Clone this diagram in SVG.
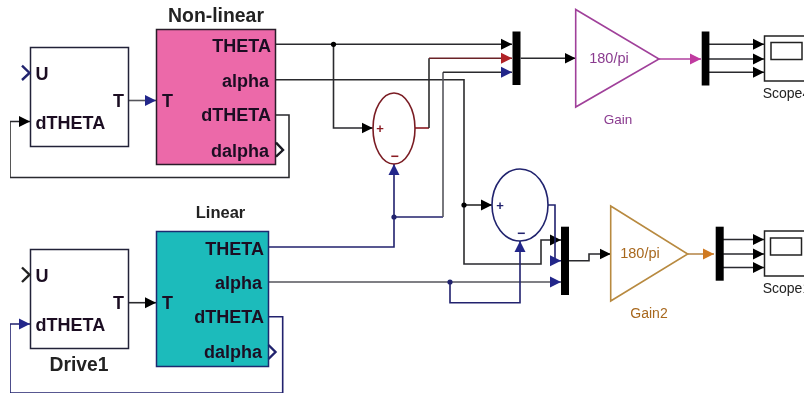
<svg xmlns="http://www.w3.org/2000/svg" width="804" height="395" viewBox="0 0 804 395">
<style>
text{font-family:"Liberation Sans",Arial,sans-serif}
.p{font-weight:700;font-size:18px;fill:#1c1024}
.e{text-anchor:end}
.t{font-weight:700;fill:#222;text-anchor:middle}
.box{fill:#fff;stroke:#222238;stroke-width:1.5}
.w{fill:none;stroke-width:1.6;stroke-linejoin:miter}
.k{stroke:#2a2a2e}.n{stroke:#20246e}.g{stroke:#55555c}
.bar{fill:#000}
.ch{fill:none;stroke-width:2.4}
</style>
<defs>
<filter id="soft" x="0" y="0" width="100%" height="100%"><feGaussianBlur stdDeviation="0.35"/></filter>
<marker id="ak" markerUnits="userSpaceOnUse" markerWidth="12" markerHeight="12" refX="11" refY="6" orient="auto"><path d="M0 0.5L11 6L0 11.5z" fill="#000"/></marker>
<marker id="an" markerUnits="userSpaceOnUse" markerWidth="12" markerHeight="12" refX="11" refY="6" orient="auto"><path d="M0 0.5L11 6L0 11.5z" fill="#23278a"/></marker>
<marker id="ar" markerUnits="userSpaceOnUse" markerWidth="12" markerHeight="12" refX="11" refY="6" orient="auto"><path d="M0 0.5L11 6L0 11.5z" fill="#b02028"/></marker>
<marker id="am" markerUnits="userSpaceOnUse" markerWidth="12" markerHeight="12" refX="11" refY="6" orient="auto"><path d="M0 0.5L11 6L0 11.5z" fill="#c03ba0"/></marker>
<marker id="ao" markerUnits="userSpaceOnUse" markerWidth="12" markerHeight="12" refX="11" refY="6" orient="auto"><path d="M0 0.5L11 6L0 11.5z" fill="#d07a20"/></marker>
</defs>
<rect width="804" height="395" fill="#fff"/>
<g filter="url(#soft)">
<g id="connectors">
<path class="w g" d="M128 100.5H156" marker-end="url(#an)"/>
<path class="w k" d="M128 302.7H156" marker-end="url(#ak)"/>
<path class="w k" d="M275 115H289V177.5H10V121.5H30" marker-end="url(#ak)"/>
<path class="w n" d="M268 316.7H282.7V393H10V324H30" marker-end="url(#an)"/>
<path class="w k" d="M275 44.3H512" marker-end="url(#ak)"/>
<path class="w k" d="M333.5 44.3V128H372.7" marker-end="url(#ak)"/>
<path class="w k" d="M275 79.7H464V264H541V240H561" marker-end="url(#ak)"/>
<path class="w k" d="M464 205H492" marker-end="url(#ak)"/>
<path class="w" stroke="#8a1c24" d="M415 128H429"/>
<path class="w k" d="M429 128V58.3"/>
<path class="w" stroke="#6a2228" d="M429 58.3H512" marker-end="url(#ar)"/>
<path class="w n" d="M268 247H394V164" marker-end="url(#an)"/>
<path class="w n" d="M394 217H443"/>
<path class="w g" d="M443 217V72.3"/>
<path class="w k" d="M443 72.3H512" marker-end="url(#an)"/>
<path class="w n" d="M548 205H555V260.7H561" marker-end="url(#an)"/>
<path class="w g" d="M268 282H561" marker-end="url(#an)"/>
<path class="w n" d="M450 282V302.7H520V241" marker-end="url(#an)"/>
<path class="w k" d="M520.7 58.3H575.5" marker-end="url(#ak)"/>
<path class="w k" d="M569 260.7H589V254H610.7" marker-end="url(#ak)"/>
<path class="w" stroke="#b0409f" d="M659 59H701" marker-end="url(#am)"/>
<path class="w" stroke="#b88a50" d="M688 254H714" marker-end="url(#ao)"/>
<path class="w k" d="M709 44.3H764" marker-end="url(#ak)"/>
<path class="w k" d="M709 59H764" marker-end="url(#ak)"/>
<path class="w k" d="M709 72.3H764" marker-end="url(#ak)"/>
<path class="w k" d="M723 239.5H764" marker-end="url(#ak)"/>
<path class="w k" d="M723 254H764" marker-end="url(#ak)"/>
<path class="w k" d="M723 267.5H764" marker-end="url(#ak)"/>
<circle cx="333.5" cy="44.3" r="2.6" fill="#000"/>
<circle cx="464" cy="205" r="2.6" fill="#000"/>
<circle cx="394" cy="217" r="2.6" fill="#20246e"/>
<circle cx="450" cy="282" r="2.6" fill="#20246e"/>
</g>
<g id="drive">
<rect class="box" x="30.5" y="47.5" width="98" height="99"/>
<path class="ch" stroke="#20246e" d="M22 65.7L29.5 73L22 80"/>
<text class="p" x="35.6" y="80">U</text>
<text class="p e" x="124" y="107">T</text>
<text class="p" x="35.6" y="129">dTHETA</text>
</g>
<g id="non-linear">
<rect x="156.5" y="29.5" width="119" height="135" fill="#ec69a9" stroke="#2a1a2a" stroke-width="1.5"/>
<text x="216" y="22" font-size="19.4" class="t">Non-linear</text>
<text class="p e" x="271" y="51.7">THETA</text>
<text class="p e" x="269" y="86.7">alpha</text>
<text class="p e" x="271" y="120.7">dTHETA</text>
<text class="p e" x="269" y="156.7">dalpha</text>
<text class="p" x="162" y="107">T</text>
<path class="ch" stroke="#1a1a22" d="M276 142.7L283 150L276 156.7"/>
</g>
<g id="drive1">
<rect class="box" x="30.5" y="249.5" width="98" height="99"/>
<path class="ch" stroke="#222" d="M22 267.5L29.5 274.7L22 282"/>
<text class="p" x="35.6" y="281.7">U</text>
<text class="p e" x="124" y="309">T</text>
<text class="p" x="35.6" y="330.7">dTHETA</text>
<text x="79" y="371" font-size="19.3" class="t">Drive1</text>
</g>
<g id="linear">
<rect x="156.5" y="231.5" width="112" height="135" fill="#1fbbbb" stroke="#1c2a70" stroke-width="1.5"/>
<text x="220.5" y="217.7" font-size="16.5" class="t">Linear</text>
<text class="p e" x="264" y="255">THETA</text>
<text class="p e" x="262" y="289">alpha</text>
<text class="p e" x="264" y="323">dTHETA</text>
<text class="p e" x="262" y="358">dalpha</text>
<text class="p" x="162" y="309">T</text>
<path class="ch" stroke="#20246e" d="M268.5 345L275.5 352L268.5 359"/>
</g>
<g id="sum1">
<ellipse cx="394" cy="128.5" rx="21" ry="35.5" fill="#fff" stroke="#7a1c24" stroke-width="1.6"/>
<text x="380" y="133" font-size="13" font-weight="700" fill="#8a1c24" text-anchor="middle">+</text>
<text x="394.5" y="161" font-size="14" font-weight="700" fill="#8a1c24" text-anchor="middle">−</text>
</g>
<g id="sum2">
<ellipse cx="520" cy="205" rx="28" ry="36" fill="#fff" stroke="#20246e" stroke-width="1.6"/>
<text x="500" y="210" font-size="13" font-weight="700" fill="#20246e" text-anchor="middle">+</text>
<text x="521" y="238" font-size="14" font-weight="700" fill="#20246e" text-anchor="middle">−</text>
</g>
<g id="mux1"><rect class="bar" x="512.5" y="31.5" width="8" height="53.5"/></g>
<g id="mux2"><rect class="bar" x="561" y="226.7" width="8" height="68.3"/></g>
<g id="gain">
<path d="M575.7 9.5L659 59L575.7 107z" fill="#fff" stroke="#a0409a" stroke-width="1.6"/>
<text x="609" y="63" font-size="14.5" fill="#8a3b8f" text-anchor="middle">180/pi</text>
<text x="618" y="124" font-size="13.5" fill="#8a3b8f" text-anchor="middle">Gain</text>
</g>
<g id="gain2">
<path d="M610.7 206L687.7 254L610.7 301z" fill="#fff" stroke="#b88a40" stroke-width="1.6"/>
<text x="640" y="258" font-size="14.5" fill="#a8681e" text-anchor="middle">180/pi</text>
<text x="649" y="318" font-size="14" fill="#a8681e" text-anchor="middle">Gain2</text>
</g>
<g id="mux3"><rect class="bar" x="701.7" y="31.5" width="7.7" height="54"/></g>
<g id="mux4"><rect class="bar" x="715.7" y="226.7" width="8" height="54"/></g>
<g id="scope4">
<rect x="764.5" y="36" width="50" height="45" fill="#fff" stroke="#222" stroke-width="1.5"/>
<rect x="771" y="42.5" width="31" height="17" fill="#fff" stroke="#222" stroke-width="1.5"/>
<text x="762.7" y="98" font-size="14" fill="#222">Scope4</text>
</g>
<g id="scope1">
<rect x="764.5" y="231" width="50" height="45" fill="#fff" stroke="#222" stroke-width="1.5"/>
<rect x="770.5" y="238" width="31" height="17" fill="#fff" stroke="#222" stroke-width="1.5"/>
<text x="762.7" y="293" font-size="14" fill="#222">Scope1</text>
</g>
</g>
</svg>
